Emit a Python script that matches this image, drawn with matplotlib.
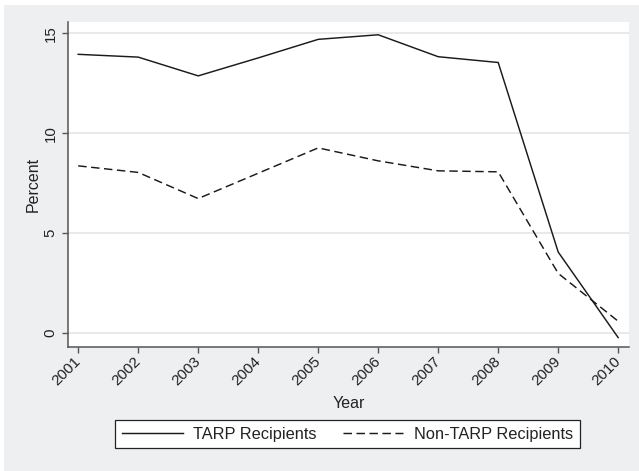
import matplotlib
matplotlib.use("Agg")
import matplotlib.pyplot as plt
from matplotlib.patches import Rectangle

plt.rcParams['font.family'] = ['Liberation Sans', 'DejaVu Sans']

years = [2001, 2002, 2003, 2004, 2005, 2006, 2007, 2008, 2009, 2010]
tarp = [13.95, 13.81, 12.87, 13.77, 14.70, 14.93, 13.83, 13.54, 4.04, -0.25]
non_tarp = [8.36, 8.03, 6.72, 7.99, 9.26, 8.61, 8.11, 8.06, 2.97, 0.57]
y_ticks = [0, 5, 10, 15]
series_labels = ["TARP Recipients", "Non-TARP Recipients"]

W, H = 639, 471
fig = plt.figure(figsize=(W / 100, H / 100), dpi=100, facecolor="white")

# outer graph region
fig.patches.append(Rectangle((4 / W, 0), 1 - 4 / W, 1 - 5 / H,
                             transform=fig.transFigure, facecolor="#EEEFF1",
                             edgecolor="none", zorder=-10))

ax = fig.add_axes([68 / W, 1 - 347 / H, (629 - 68) / W, (347 - 22) / H])
ax.set_zorder(2)
ax.set_facecolor("white")

lw = 1.05
ax.plot(years, tarp, color="#1a1a1a", lw=lw, solid_joinstyle="miter",
        label=series_labels[0], zorder=3)
ax.plot(years, non_tarp, color="#1a1a1a", lw=lw,
        linestyle=(0, (5.8, 3.1)), label=series_labels[1], zorder=3)

ax.set_xlim(2000.83, 2010.18)
ax.set_ylim(-0.72, 15.57)

ax.set_yticks(y_ticks)
ax.set_xticks(years)
ax.set_yticklabels([str(v) for v in y_ticks], rotation=90, va="center",
                   fontsize=10.8, color="#222222")
ax.set_xticklabels([str(y) for y in years], rotation=45, ha="right",
                   va="center", rotation_mode="anchor", fontsize=11,
                   color="#222222")

ax.grid(axis="y", color="#E8E9EA", lw=1.4, zorder=1)
ax.set_axisbelow(True)

for side in ("top", "right"):
    ax.spines[side].set_visible(False)
for side in ("left", "bottom"):
    ax.spines[side].set_color("#555555")
    ax.spines[side].set_linewidth(1.1)
ax.tick_params(axis="both", direction="out", length=4.5, width=1.0,
               color="#555555")
ax.tick_params(axis="y", pad=3)
ax.tick_params(axis="x", pad=4)

ax.set_ylabel("Percent", fontsize=11.5, color="#222222")
ax.set_xlabel("Year", fontsize=11.5, color="#222222")
ax.yaxis.set_label_coords(-0.048, 0.5)
ax.xaxis.set_label_coords(0.5, -0.150)

leg = fig.legend(loc="center", bbox_to_anchor=(347.5 / W, 1 - 434 / H),
                 ncol=2, fontsize=11.8, frameon=True, fancybox=False,
                 framealpha=1, handlelength=3.7, handletextpad=0.62,
                 columnspacing=1.6, borderpad=0.42)
leg.get_frame().set_edgecolor("#222222")
leg.get_frame().set_linewidth(0.9)
leg.get_frame().set_facecolor("white")
for t in leg.get_texts():
    t.set_color("#222222")

fig.savefig("out.png", dpi=100, facecolor=fig.get_facecolor())
